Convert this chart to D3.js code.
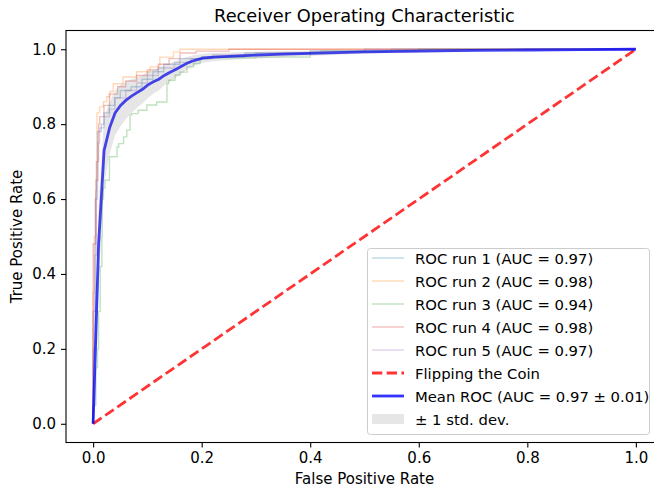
<!DOCTYPE html>
<html><head><meta charset="utf-8">
<script src="https://cdn.jsdelivr.net/npm/d3@7"></script>
<style>body{margin:0;background:#fff}svg{display:block;font-family:"DejaVu Sans",sans-serif}</style>
</head><body><svg id="c" width="654" height="487"></svg>
<script>
// ---- data ----
const runLabels = ["ROC run 1 (AUC = 0.97)","ROC run 2 (AUC = 0.98)","ROC run 3 (AUC = 0.94)","ROC run 4 (AUC = 0.98)","ROC run 5 (AUC = 0.97)"];
const run1Fpr = [0,0,0.004,0.004,0.008,0.008,0.015,0.02,0.03,0.04,0.05,0.07,0.09,0.11,0.13,0.16,0.2,0.28,0.4,0.55,0.65,1];
const run1Tpr = [0,0.3,0.3,0.55,0.6,0.75,0.78,0.8,0.83,0.85,0.87,0.89,0.9,0.92,0.94,0.96,0.975,0.98,0.99,0.995,1,1];
const run2Fpr = [0,0,0.002,0.005,0.007,0.007,0.012,0.019,0.025,0.031,0.037,0.055,0.08,0.105,0.123,0.148,0.16,0.175,1];
const run2Tpr = [0,0.1,0.35,0.5,0.65,0.82,0.83,0.846,0.86,0.873,0.887,0.908,0.926,0.94,0.953,0.979,0.993,1,1];
const run3Fpr = [0,0.005,0.008,0.01,0.013,0.016,0.017,0.019,0.022,0.03,0.03,0.044,0.047,0.056,0.062,0.068,0.071,0.083,0.099,0.117,0.136,0.139,0.151,0.16,0.173,0.185,0.197,0.215,0.3,0.4,0.42,0.6,0.72,1];
const run3Tpr = [0,0.05,0.15,0.2,0.3,0.42,0.5,0.6,0.63,0.65,0.686,0.713,0.739,0.748,0.766,0.784,0.824,0.828,0.837,0.851,0.859,0.908,0.917,0.931,0.939,0.953,0.962,0.975,0.977,0.979,0.99,0.995,1,1];
const run4Fpr = [0,0,0.005,0.006,0.01,0.012,0.02,0.03,0.045,0.06,0.08,0.1,0.12,0.14,0.16,0.19,0.25,0.3,1];
const run4Tpr = [0,0.48,0.48,0.62,0.7,0.8,0.82,0.85,0.88,0.9,0.915,0.93,0.945,0.96,0.975,0.99,0.995,1,1];
const run5Fpr = [0,0.003,0.006,0.009,0.012,0.02,0.03,0.04,0.06,0.08,0.1,0.12,0.15,0.18,0.22,0.3,0.4,0.5,0.6,1];
const run5Tpr = [0,0.2,0.45,0.65,0.75,0.79,0.82,0.84,0.87,0.89,0.91,0.93,0.95,0.965,0.975,0.985,0.99,0.995,1,1];
const meanFpr = [0,0.0101,0.0202,0.0303,0.0404,0.0505,0.0606,0.0707,0.0808,0.0909,0.101,0.111,0.121,0.131,0.141,0.152,0.162,0.172,0.182,0.192,0.202,0.222,0.25,0.3,0.35,0.4,0.45,0.5,0.6,0.7,0.8,0.9,1.0];
const meanTpr = [0,0.48,0.73,0.79,0.83,0.85,0.864,0.875,0.884,0.893,0.905,0.913,0.92,0.93,0.938,0.946,0.954,0.962,0.968,0.972,0.976,0.979,0.981,0.984,0.987,0.989,0.991,0.993,0.995,0.997,0.998,0.999,1.0];
const stdTpr = [0,0.1,0.09,0.07,0.06,0.055,0.05,0.045,0.04,0.038,0.035,0.032,0.03,0.027,0.024,0.022,0.02,0.017,0.015,0.013,0.012,0.011,0.01,0.009,0.008,0.007,0.006,0.005,0.004,0.003,0.002,0.001,0];
const chanceFpr = [0,1];
const chanceTpr = [0,1];
const ticks = [0,0.2,0.4,0.6,0.8,1.0];
const runColors = ["#1f77b4","#ff7f0e","#2ca02c","#d62728","#9467bd"];

// ---- drawing ----
const svg = d3.select("#c");
const L = 66, R = 663, T = 30.5, B = 442.5;
const x = d3.scaleLinear().domain([-0.05,1.05]).range([L,R]);
const y = d3.scaleLinear().domain([-0.05,1.05]).range([B,T]);

svg.append("defs").append("clipPath").attr("id","clip")
  .append("rect").attr("x",L).attr("y",T).attr("width",R-L).attr("height",B-T);
const g = svg.append("g").attr("clip-path","url(#clip)");

const runs = [[run1Fpr,run1Tpr],[run2Fpr,run2Tpr],[run3Fpr,run3Tpr],[run4Fpr,run4Tpr],[run5Fpr,run5Tpr]];
const line = d3.line().x(d=>x(d[0])).y(d=>y(d[1]));
const stepLine = d3.line().x(d=>x(d[0])).y(d=>y(d[1])).curve(d3.curveStepBefore);
runs.forEach((r,i)=>{
  const pts = r[0].map((f,j)=>[f,r[1][j]]);
  g.append("path").attr("d",stepLine(pts)).attr("fill","none")
    .attr("stroke",runColors[i]).attr("stroke-opacity",0.3).attr("stroke-width",1.4);
});
g.append("path").attr("d",line(chanceFpr.map((f,j)=>[f,chanceTpr[j]])))
  .attr("fill","none").attr("stroke","#ff0000").attr("stroke-opacity",0.8)
  .attr("stroke-width",2.8).attr("stroke-dasharray","10.3,4.4");
g.append("path").attr("d",line(meanFpr.map((f,j)=>[f,meanTpr[j]])))
  .attr("fill","none").attr("stroke","#0000ff").attr("stroke-opacity",0.8).attr("stroke-width",2.8);
const area = d3.area().x(d=>x(d[0])).y0(d=>y(d[1])).y1(d=>y(d[2]));
g.append("path").attr("d",area(meanFpr.map((f,j)=>[f,Math.max(meanTpr[j]-stdTpr[j],0),Math.min(meanTpr[j]+stdTpr[j],1)])))
  .attr("fill","grey").attr("fill-opacity",0.2).attr("stroke","none");

// axes
const fmt = d3.format(".1f");
const xa = svg.append("g").attr("transform",`translate(0,${B})`)
  .call(d3.axisBottom(x).tickValues(ticks).tickFormat(fmt).tickSize(5).tickPadding(5));
const ya = svg.append("g").attr("transform",`translate(${L},0)`)
  .call(d3.axisLeft(y).tickValues(ticks).tickFormat(fmt).tickSize(5).tickPadding(5));
[xa,ya].forEach(a=>{
  a.select(".domain").remove();
  a.selectAll("text").attr("font-size",15).attr("fill","#000").attr("font-family","DejaVu Sans");
  a.selectAll("line").attr("stroke","#000").attr("stroke-width",1.1);
});
// spines
svg.append("rect").attr("x",L).attr("y",T).attr("width",R-L).attr("height",B-T)
  .attr("fill","none").attr("stroke","#000").attr("stroke-width",1.1);

svg.append("text").attr("x",(L+R)/2).attr("y",22).attr("text-anchor","middle")
  .attr("font-size",17.8).text("Receiver Operating Characteristic");
svg.append("text").attr("x",(L+R)/2).attr("y",484).attr("text-anchor","middle")
  .attr("font-size",15).text("False Positive Rate");
svg.append("text").attr("transform",`translate(22,${(T+B)/2}) rotate(-90)`).attr("text-anchor","middle")
  .attr("font-size",15).text("True Positive Rate");

// legend
const lg = svg.append("g");
lg.append("rect").attr("x",367.5).attr("y",248.5).attr("width",282).attr("height",186).attr("rx",3)
  .attr("fill","#fff").attr("fill-opacity",0.8).attr("stroke","#cccccc").attr("stroke-width",1);
const items = runLabels.map((t,i)=>({t,type:"run",c:runColors[i]}))
  .concat([{t:"Flipping the Coin",type:"dash"},{t:"Mean ROC (AUC = 0.97 \u00b1 0.01)",type:"mean"},{t:"\u00b1 1 std. dev.",type:"band"}]);
items.forEach((it,i)=>{
  const cy = 258 + i*23;
  if(it.type==="run") lg.append("line").attr("x1",372).attr("x2",404).attr("y1",cy).attr("y2",cy)
      .attr("stroke",it.c).attr("stroke-opacity",0.3).attr("stroke-width",1.4);
  if(it.type==="dash") lg.append("line").attr("x1",372).attr("x2",404).attr("y1",cy).attr("y2",cy)
      .attr("stroke","#ff0000").attr("stroke-opacity",0.8).attr("stroke-width",2.8).attr("stroke-dasharray","10.3,4.4");
  if(it.type==="mean") lg.append("line").attr("x1",372).attr("x2",404).attr("y1",cy).attr("y2",cy)
      .attr("stroke","#0000ff").attr("stroke-opacity",0.8).attr("stroke-width",2.8);
  if(it.type==="band") lg.append("rect").attr("x",372).attr("y",cy-5).attr("width",32).attr("height",10)
      .attr("fill","grey").attr("fill-opacity",0.2);
  lg.append("text").attr("x",415).attr("y",cy+5.5).attr("font-size",14.8).text(it.t);
});
</script></body></html>
